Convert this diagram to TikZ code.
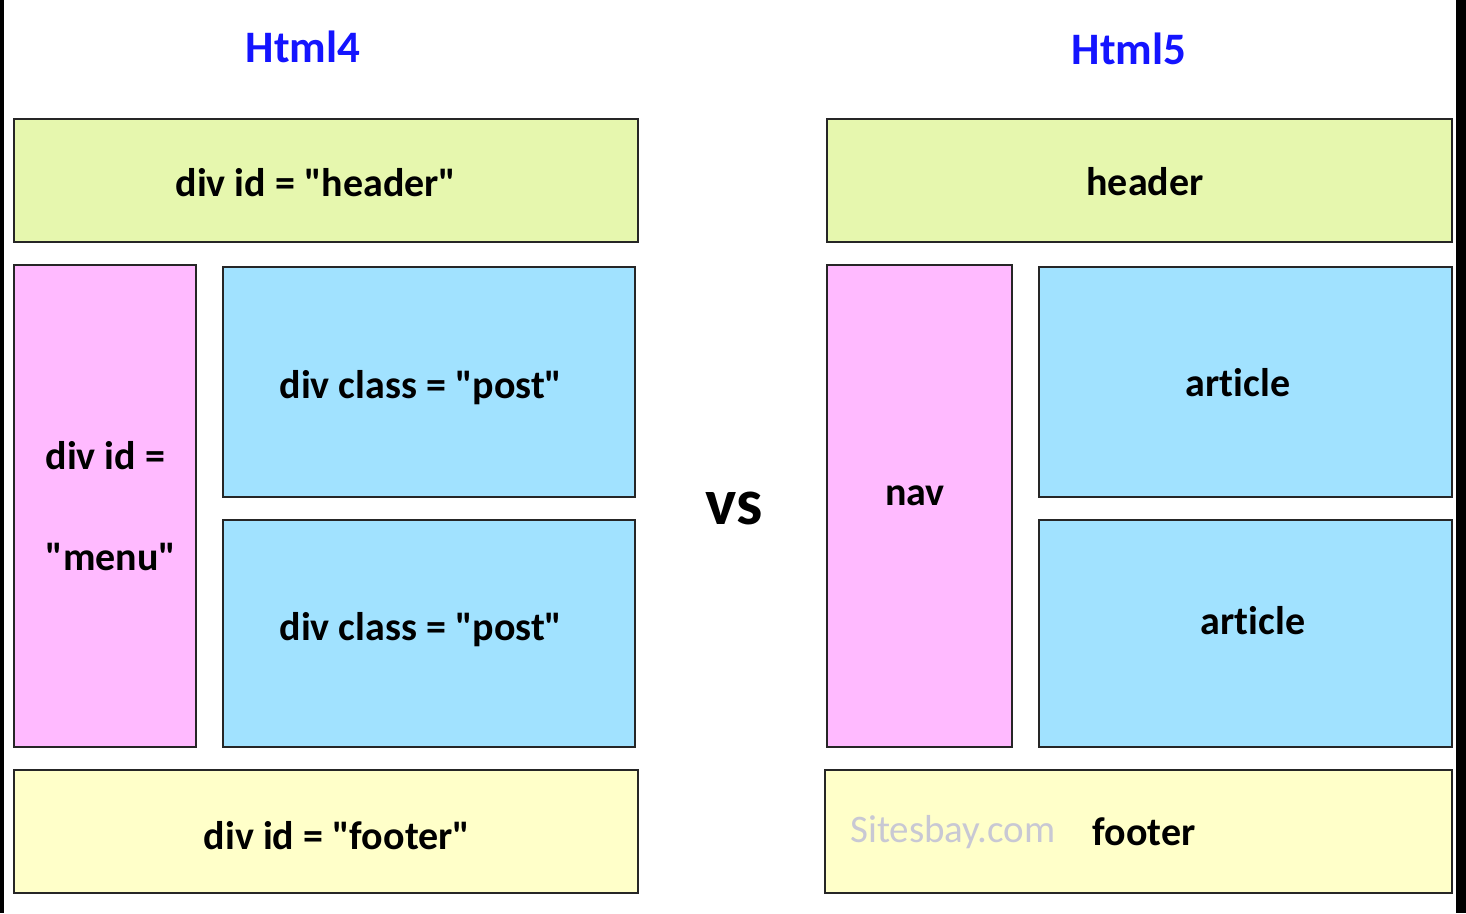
\documentclass[tikz,border=0pt]{standalone}
\usepackage{fontspec}
\setmainfont{Carlito}[Ligatures=NoCommon]
\usepackage{xcolor}
\usepackage{tikz}

\definecolor{hdrgreen}{RGB}{230,247,174}
\definecolor{navpink}{RGB}{255,186,255}
\definecolor{postblue}{RGB}{161,226,255}
\definecolor{ftryellow}{RGB}{255,255,201}
\definecolor{ttlblue}{RGB}{20,20,255}
\definecolor{markgray}{RGB}{200,200,212}
\newcommand{\qq}{\textquotedbl}

\begin{document}
\begin{tikzpicture}[x=1pt,y=-1pt,
    box/.style={draw=black!85,line width=2pt,inner sep=0pt},
    lbl/.style={font=\fontsize{40}{48}\selectfont\bfseries},
    ttl/.style={text=ttlblue,font=\fontsize{45}{54}\selectfont\bfseries}]
    \useasboundingbox (0,0) rectangle (1466,913);
    \fill[white] (0,0) rectangle (1466,913);
    \fill[black] (0,0) rectangle (4,913);
    \fill[black] (1456,0) rectangle (1466,913);
    % titles
    \node[ttl] (four) at (303,47) {Html4};
    \node[ttl] (five) at (1129,49) {Html5};
    % html4 side
    \node[box,fill=hdrgreen,minimum width=624pt,minimum height=123pt] (hdrfour) at (326,180.5) {};
    \node[box,fill=navpink,minimum width=182pt,minimum height=482pt] (menu) at (105,506) {};
    \node[box,fill=postblue,minimum width=412pt,minimum height=230pt] (postone) at (429,382) {};
    \node[box,fill=postblue,minimum width=412pt,minimum height=227pt] (posttwo) at (429,633.5) {};
    \node[box,fill=ftryellow,minimum width=624pt,minimum height=123pt] (ftrfour) at (326,831.5) {};
    \node[lbl] (hdrfourtext) at (316,183) {div id = \qq header\qq};
    \node[lbl,align=left] (menutext) at (111,506) {div id =\\[53pt]\qq menu\qq};
    \node[lbl] (postonetext) at (421,388) {div class = \qq post\qq};
    \node[lbl] (posttwotext) at (421,630) {div class = \qq post\qq};
    \node[lbl] (ftrfourtext) at (337,836) {div id = \qq footer\qq};
    % vs
    \node[font=\fontsize{66}{72}\selectfont\bfseries] (vs) at (734,508) {vs};
    % html5 side
    \node[box,fill=hdrgreen,minimum width=625pt,minimum height=123pt] (hdrfive) at (1139.5,180.5) {};
    \node[box,fill=navpink,minimum width=185pt,minimum height=482pt] (nav) at (919.5,506) {};
    \node[box,fill=postblue,minimum width=413pt,minimum height=230pt] (artone) at (1245.5,382) {};
    \node[box,fill=postblue,minimum width=413pt,minimum height=227pt] (arttwo) at (1245.5,633.5) {};
    \node[box,fill=ftryellow,minimum width=627pt,minimum height=123pt] (ftrfive) at (1138.5,831.5) {};
    \node[lbl] (hdrfivetext) at (1145,182) {header};
    \node[lbl] (navtext) at (915,496) {nav};
    \node[lbl] (artonetext) at (1238,383) {article};
    \node[lbl] (arttwotext) at (1253,621) {article};
    \node[lbl] (ftrfivetext) at (1144,832) {footer};
    \node[text=markgray,font=\fontsize{39}{46}\selectfont] (mark) at (953,832) {Sitesbay.com};
\end{tikzpicture}
\end{document}
